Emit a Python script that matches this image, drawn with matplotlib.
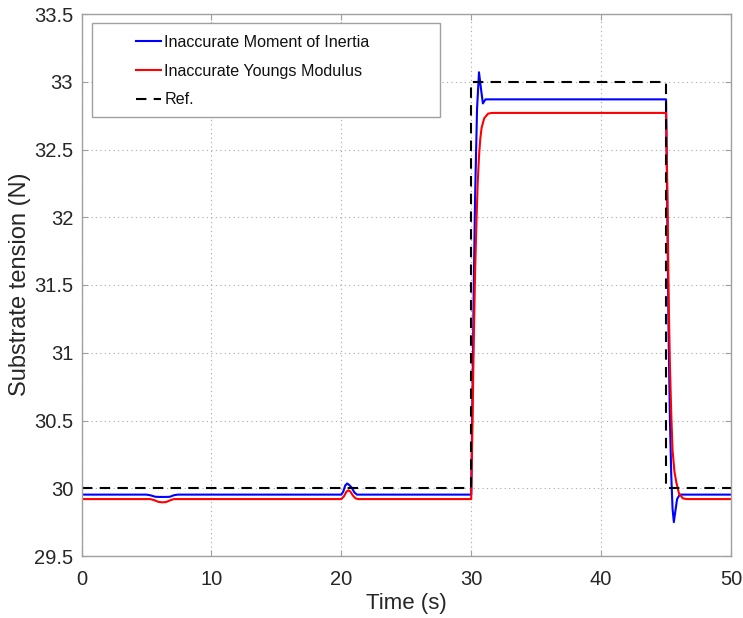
import matplotlib
matplotlib.use("Agg")
import matplotlib.pyplot as plt
from matplotlib.patches import Rectangle

plt.rcParams['font.family'] = ['Liberation Sans', 'DejaVu Sans']

# Blue: inaccurate moment of inertia
t_blue = [0, 5.0, 5.3, 5.7, 6.0, 6.5, 6.8, 7.1, 7.4, 20.0, 20.15, 20.3, 20.45, 20.6, 20.8, 21.0, 21.2,
          30.0, 30.1, 30.2, 30.3, 30.45, 30.6, 30.75, 30.9, 31.1,
          45.0, 45.1, 45.2, 45.3, 45.4, 45.5, 45.6, 45.7, 45.85, 46.05, 50]
v_blue = [29.953, 29.953, 29.948, 29.937, 29.936, 29.936, 29.937, 29.948, 29.953, 29.953, 29.975, 30.02, 30.035, 30.025, 30.005, 29.97, 29.953,
          29.953, 30.7, 31.5, 32.15, 32.8, 33.07, 32.95, 32.84, 32.87,
          32.87, 32.0, 31.1, 30.5, 30.1, 29.85, 29.75, 29.82, 29.92, 29.953, 29.953]

# Red: inaccurate Young's modulus
t_red = [0, 5.3, 5.6, 5.9, 6.2, 6.5, 6.8, 7.1, 20.0, 20.2, 20.4, 20.55, 20.7, 20.9, 21.1, 21.3,
         30.0, 30.1, 30.2, 30.3, 30.4, 30.5, 30.6, 30.7, 30.8, 31.0, 31.3, 31.6,
         45.0, 45.1, 45.2, 45.3, 45.4, 45.5, 45.65, 45.8, 46.0, 46.3, 46.6, 50]
v_red = [29.92, 29.92, 29.912, 29.9, 29.896, 29.898, 29.91, 29.92, 29.92, 29.94, 29.975, 29.985, 29.975, 29.945, 29.925, 29.92,
         29.92, 30.5, 31.1, 31.6, 31.95, 32.25, 32.45, 32.58, 32.66, 32.73, 32.765, 32.77,
         32.77, 32.2, 31.4, 30.9, 30.55, 30.28, 30.12, 30.04, 29.96, 29.925, 29.92, 29.92]

# Reference
t_ref = [0, 30, 30, 45, 45, 50]
v_ref = [30, 30, 33, 33, 30, 30]

labels = ['Inaccurate Moment of Inertia', 'Inaccurate Youngs Modulus', 'Ref.']
xticks = [0, 10, 20, 30, 40, 50]
yticks = [29.5, 30, 30.5, 31, 31.5, 32, 32.5, 33, 33.5]

W, H = 743, 618
fig = plt.figure(figsize=(W / 100, H / 100), dpi=100)
ax_l, ax_r, ax_t, ax_b = 81.5, 731, 14, 556
ax = fig.add_axes([ax_l / W, 1 - ax_b / H, (ax_r - ax_l) / W, (ax_b - ax_t) / H])
aw, ah = ax_r - ax_l, ax_b - ax_t

ax.plot(t_blue, v_blue, color='#0000ff', lw=1.5, label=labels[0])
ax.plot(t_red, v_red, color='#ff0000', lw=1.5, label=labels[1])
ax.plot(t_ref, v_ref, color='black', lw=1.5, ls=(0, (5, 3.5)), label=labels[2])

ax.set_xlim(0, 50)
ax.set_ylim(29.5, 33.5)
ax.set_xticks(xticks)
ax.set_yticks(yticks)
ax.set_yticklabels([('%g' % y) for y in yticks])
ax.grid(True, ls=(0, (1, 3)), color='#a8a8a8', lw=0.8)
ax.tick_params(direction='in', length=4, color='#a0a0a0', labelsize=14.5, labelcolor='#262626',
               top=True, right=True)
ax.tick_params(axis='x', pad=10)
ax.tick_params(axis='y', pad=6)
for s in ax.spines.values():
    s.set_color('#a0a0a0')
    s.set_linewidth(1.0)

ax.set_xlabel('Time (s)', fontsize=16, color='#262626', labelpad=3)
ax.set_ylabel('Substrate tension (N)', fontsize=17, color='#262626')
ax.yaxis.set_label_coords((31 - ax_l) / aw, 1 - (284 - ax_t) / ah)

# legend frame (MATLAB style) and entries
fx0, fx1, fy0, fy1 = 92, 440, 23, 117
ax.add_patch(Rectangle(((fx0 - ax_l) / aw, 1 - (fy1 - ax_t) / ah), (fx1 - fx0) / aw, (fy1 - fy0) / ah,
                       transform=ax.transAxes, facecolor='white', edgecolor='#a0a0a0', lw=1.0, zorder=5))
leg = ax.legend(loc='upper left', bbox_to_anchor=((136 - ax_l) / aw, 1 - (35 - ax_t) / ah), fontsize=11.6,
                frameon=False, handlelength=1.55, handletextpad=0.2, borderpad=0.0,
                labelspacing=0.85, borderaxespad=0)
leg.set_zorder(6)
for txt in leg.get_texts():
    txt.set_color('#111111')

fig.savefig('out.png', dpi=100)
